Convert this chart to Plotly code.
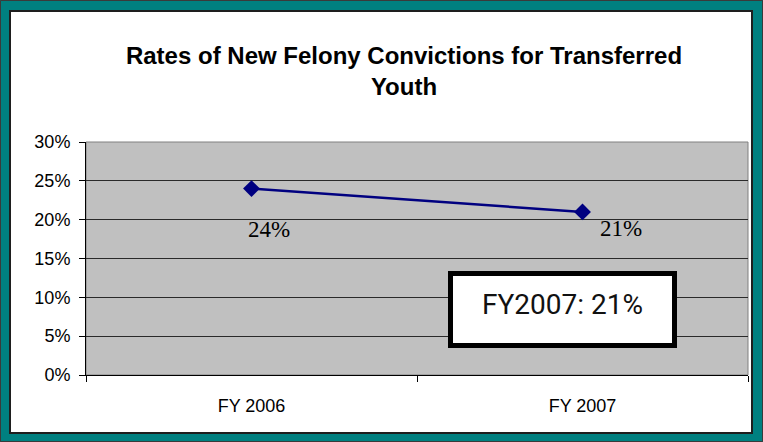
import plotly.graph_objects as go

# data
years = ["FY 2006", "FY 2007"]
rates = [0.24, 0.21]
callout_text = "FY2007: 21%"
title_text = "Rates of New Felony Convictions for Transferred<br>Youth"

# label offsets in px (x right, y up) for each point label
label_dx = [17, 38]
label_dy = [-41, -17]

# plot area in pixels
L, R, T, B = 86, 748, 142, 375
W_IMG, H_IMG = 763, 442
PW, PH = R - L, B - T


def px_x(px):
    return (px - L) / PW


def px_y(py):
    return (B - py) / PH


fig = go.Figure()

fig.add_trace(go.Scatter(
    x=years,
    y=rates,
    mode="lines+markers",
    line=dict(color="#000080", width=2.5),
    marker=dict(symbol="diamond", size=13, color="#000080"),
    hoverinfo="skip",
))

# value labels under the points
for yr, v, dx, dy in zip(years, rates, label_dx, label_dy):
    fig.add_annotation(
        x=yr, y=v, text=f"{v:.0%}", showarrow=False,
        xshift=dx, yshift=dy,
        font=dict(family="Liberation Serif, Times New Roman, serif", size=23, color="black"),
    )

shapes = [
    # outer dark edge
    dict(type="rect", xref="paper", yref="paper",
         x0=px_x(0.5), x1=px_x(W_IMG - 0.5), y0=px_y(0.5), y1=px_y(H_IMG - 0.5),
         line=dict(color="#3a3a3a", width=1), fillcolor="rgba(0,0,0,0)", layer="below"),
    # white chart area inside the teal frame
    dict(type="rect", xref="paper", yref="paper",
         x0=px_x(10), x1=px_x(752), y0=px_y(11), y1=px_y(433),
         line=dict(color="#1e1e1e", width=2), fillcolor="white", layer="below"),
    # grey plot area
    dict(type="rect", xref="paper", yref="paper",
         x0=0, x1=1, y0=0, y1=1,
         line=dict(color="#808080", width=1), fillcolor="#C0C0C0", layer="below"),
    # callout box
    dict(type="rect", xref="paper", yref="paper",
         x0=px_x(450.5), x1=px_x(674.5), y0=px_y(273.5), y1=px_y(345.5),
         line=dict(color="black", width=5), fillcolor="white", layer="above"),
]

fig.add_annotation(
    xref="paper", yref="paper", x=px_x(562), y=px_y(304),
    xanchor="center", yanchor="middle",
    text=callout_text, showarrow=False,
    font=dict(family="Roboto, sans-serif", size=28, color="#111"),
)

fig.update_layout(
    width=W_IMG, height=H_IMG,
    margin=dict(l=L, r=W_IMG - R, t=T, b=H_IMG - B, pad=0),
    paper_bgcolor="#008080",
    plot_bgcolor="#C0C0C0",
    showlegend=False,
    shapes=shapes,
    title=dict(
        text=title_text,
        x=404 / W_IMG, xref="container", xanchor="center",
        y=1 - 64 / H_IMG, yref="container", yanchor="middle",
        font=dict(family="Liberation Sans, Arial, sans-serif", size=24, color="black", weight="bold"),
    ),
    font=dict(family="Liberation Sans, Arial, sans-serif", size=18, color="black"),
    xaxis=dict(
        type="category", range=[-0.5, 1.5],
        showgrid=False, showline=True, linecolor="black", linewidth=1,
        ticks="outside", tickson="boundaries", ticklen=6, tickcolor="black",
        ticklabelstandoff=14, zeroline=False,
    ),
    yaxis=dict(
        range=[0, 0.30], dtick=0.05, tickformat=".0%",
        showgrid=True, gridcolor="#2a2a2a", gridwidth=1,
        showline=True, linecolor="black", linewidth=1,
        ticks="outside", ticklen=6, tickcolor="black",
        ticklabelstandoff=5, zeroline=False,
    ),
)

# drop the page's default body margin so the figure sits at the window origin
fig.write_html(
    "out.html",
    config={"displayModeBar": False},
    post_script="document.body.style.margin='0';",
)
